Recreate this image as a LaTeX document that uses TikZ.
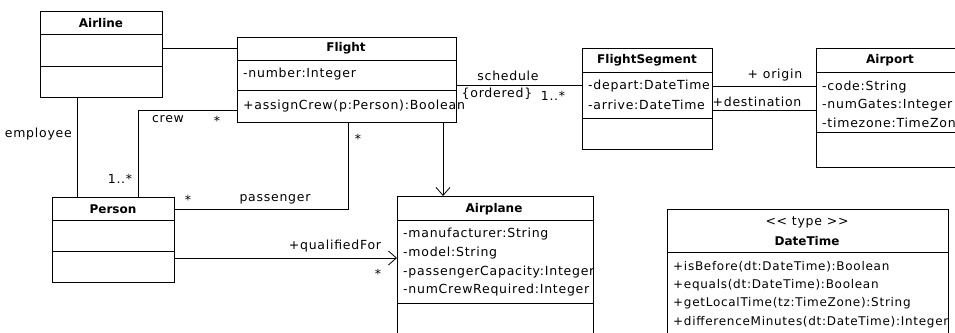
\documentclass[tikz,border=0pt]{standalone}
\usepackage{fontspec}
\setmainfont{DejaVu Sans}
\newfontfamily\umlfont[LetterSpace=6]{DejaVu Sans}
\usetikzlibrary{arrows.meta}
\tikzset{
  cls/.style={draw, line width=0.8pt, anchor=north west, inner sep=0pt},
  clsname/.style={font=\fontsize{12}{14}\selectfont\bfseries, inner sep=0pt},
  member/.style={anchor=west, inner sep=0pt},
  op/.style={member, font=\umlfont\fontsize{12}{14}\selectfont},
  lbl/.style={inner sep=0pt},
  assoc/.style={line width=0.8pt},
  nav/.style={assoc, -{Straight Barb[length=8pt,width=14pt,line width=0.8pt]}},
}
\begin{document}
\begin{tikzpicture}[x=1pt,y=-1pt,font=\umlfont\fontsize{12.5}{15}\selectfont]
  \path[use as bounding box, clip] (0,0) rectangle (955,332);
  % class boxes
  \node[cls, minimum width=122, minimum height=86] (airline) at (40,11) {};
  \draw[assoc] ([yshift=-23pt]airline.north west) -- ([yshift=-23pt]airline.north east);
  \draw[assoc] ([yshift=-55pt]airline.north west) -- ([yshift=-55pt]airline.north east);
  \node[clsname] (airlinename) at (101,23) {Airline};

  \node[cls, minimum width=219, minimum height=85] (flight) at (237,37) {};
  \draw[assoc] ([yshift=-23pt]flight.north west) -- ([yshift=-23pt]flight.north east);
  \draw[assoc] ([yshift=-53pt]flight.north west) -- ([yshift=-53pt]flight.north east);
  \node[clsname] (flightname) at (346,48) {Flight};
  \node[member] (fnumber) at (243,74) {-number:Integer};
  \node[member] (fassign) at (243,106) {+assignCrew(p:Person):Boolean};

  \node[cls, minimum width=130, minimum height=101] (segment) at (582,48) {};
  \draw[assoc] ([yshift=-24pt]segment.north west) -- ([yshift=-24pt]segment.north east);
  \draw[assoc] ([yshift=-70pt]segment.north west) -- ([yshift=-70pt]segment.north east);
  \node[clsname] (segmentname) at (647,60) {FlightSegment};
  \node[member] (sdepart) at (588,86) {-depart:DateTime};
  \node[member] (sarrive) at (588,105) {-arrive:DateTime};

  \node[cls, minimum width=160, minimum height=119] (airport) at (816,48) {};
  \draw[assoc] ([yshift=-24pt]airport.north west) -- ([yshift=-24pt]airport.north east);
  \draw[assoc] ([yshift=-84pt]airport.north west) -- ([yshift=-84pt]airport.north east);
  \node[clsname] (airportname) at (890,60) {Airport};
  \node[member] (acode) at (822,87) {-code:String};
  \node[member] (agates) at (822,105) {-numGates:Integer};
  \node[member] (azone) at (822,123) {-timezone:TimeZone};

  \node[cls, minimum width=122, minimum height=85] (person) at (52,197) {};
  \draw[assoc] ([yshift=-23pt]person.north west) -- ([yshift=-23pt]person.north east);
  \draw[assoc] ([yshift=-54pt]person.north west) -- ([yshift=-54pt]person.north east);
  \node[clsname] (personname) at (113,209) {Person};

  \node[cls, minimum width=196, minimum height=150] (airplane) at (397,196) {};
  \draw[assoc] ([yshift=-24pt]airplane.north west) -- ([yshift=-24pt]airplane.north east);
  \draw[assoc] ([yshift=-107pt]airplane.north west) -- ([yshift=-107pt]airplane.north east);
  \node[clsname] (airplanename) at (494,209) {Airplane};
  \node[member] (pmaker) at (403,234) {-manufacturer:String};
  \node[member] (pmodel) at (403,253) {-model:String};
  \node[member] (pseats) at (403,272) {-passengerCapacity:Integer};
  \node[member] (pcrew) at (403,290) {-numCrewRequired:Integer};

  \node[cls, minimum width=281, minimum height=140] (datetime) at (667,209) {};
  \draw[assoc] ([yshift=-43pt]datetime.north west) -- ([yshift=-43pt]datetime.north east);
  \node[lbl] (dtstereo) at (807,222) {{<}{<} type {>}{>}};
  \node[clsname] (datetimename) at (807,241) {DateTime};
  \node[op] (dbefore) at (673,267) {+isBefore(dt:DateTime):Boolean};
  \node[op] (dequals) at (673,285) {+equals(dt:DateTime):Boolean};
  \node[op] (dlocal) at (673,303) {+getLocalTime(tz:TimeZone):String};
  \node[op] (ddiff) at (673,322) {+differenceMinutes(dt:DateTime):Integer};

  % associations
  \draw[assoc] (airline.east |- flightname) -- (flight.west |- flightname);
  \draw[assoc] (flight.east |- 0,85) -- (segment.west |- 0,85);
  \node[lbl] (schedule) at (508,76) {schedule};
  \node[lbl] (ordered) at (497,94) {\{ordered\}};
  \node[lbl] (schedmult) at (553,96) {1..*};
  \draw[assoc] (segment.east |- 0,86) -- (airport.west |- 0,86);
  \draw[assoc] (segment.east |- 0,110) -- (airport.west |- 0,110);
  \node[lbl] (origin) at (775,75) {+ origin};
  \node[lbl] (destination) at (757,102) {+destination};

  \draw[assoc] (airline.south -| 77,0) -- (person.north -| 77,0);
  \node[lbl, anchor=east] (employee) at (72,134) {employee};
  \draw[assoc] (flight.west |- 0,110) -| (person.north -| 138,0);
  \node[lbl] (crew) at (168,119) {crew};
  \node[lbl] (crewmult) at (217,121) {*};
  \node[lbl] (crewmin) at (120,179) {1..*};
  \draw[assoc] (flight.south -| 348,0) |- (person.east |- 0,209);
  \node[lbl] (paxflight) at (358,139) {*};
  \node[lbl] (passenger) at (275,199) {passenger};
  \node[lbl] (paxmult) at (188,200) {*};

  \draw[nav] (flight.south -| 443,0) -- (airplane.north -| 443,0);
  \draw[nav] (person.east |- 0,258) -- (airplane.west |- 0,258);
  \node[lbl] (qualified) at (335,246) {+qualifiedFor};
  \node[lbl] (qualmult) at (378,274) {*};
\end{tikzpicture}
\end{document}
